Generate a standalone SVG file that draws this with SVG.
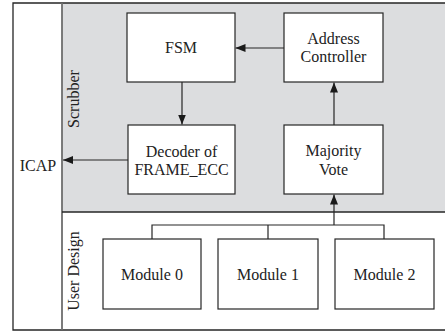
<svg xmlns="http://www.w3.org/2000/svg" width="445" height="332" viewBox="0 0 445 332">
  <style>
    .box { fill: #ffffff; stroke: #262626; stroke-width: 1.2; }
    .frame { fill: none; stroke: #262626; stroke-width: 1.3; }
    .wire { fill: none; stroke: #262626; stroke-width: 1.2; }
    text { font-family: "Liberation Serif", "Times New Roman", serif; font-size: 16px; fill: #222222; text-anchor: middle; }
  </style>
  <defs>
    <marker id="arrow" viewBox="0 0 10 8" refX="10" refY="4" markerWidth="10" markerHeight="8" markerUnits="userSpaceOnUse" orient="auto">
      <path d="M0,0 L10,4 L0,8 Z" fill="#1a1a1a"/>
    </marker>
  </defs>

  <!-- background regions -->
  <rect x="0" y="0" width="445" height="332" fill="#ffffff"/>
  <rect x="62" y="3" width="383" height="209" fill="#dcdddf"/>

  <!-- outer frame and region dividers -->
  <g id="frame">
    <path class="frame" d="M445,3 H13 V330 H445"/>
    <line x1="62" y1="3" x2="62" y2="330" stroke="#6e6e6e" stroke-width="1.8"/>
    <line class="frame" x1="62" y1="212" x2="445" y2="212"/>
  </g>

  <g id="icap">
    <text x="38" y="171" font-size="15.5">ICAP</text>
  </g>
  <g id="scrubber-label">
    <text transform="translate(79,99) rotate(-90)">Scrubber</text>
  </g>
  <g id="user-design-label">
    <text transform="translate(79,271) rotate(-90)">User Design</text>
  </g>

  <g id="fsm">
    <rect class="box" x="127" y="13" width="108" height="69"/>
    <text x="181" y="53">FSM</text>
  </g>
  <g id="address-controller">
    <rect class="box" x="284" y="13" width="99" height="69"/>
    <text x="333.5" y="43.5">Address</text>
    <text x="333.5" y="61.5">Controller</text>
  </g>
  <g id="decoder">
    <rect class="box" x="128" y="125" width="107" height="69"/>
    <text x="181.5" y="156.5">Decoder of</text>
    <text x="181.5" y="174.5">FRAME_ECC</text>
  </g>
  <g id="majority-vote">
    <rect class="box" x="284" y="125" width="99" height="69"/>
    <text x="333.5" y="156">Majority</text>
    <text x="333.5" y="174.5">Vote</text>
  </g>
  <g id="module-0">
    <rect class="box" x="103" y="239" width="98" height="70"/>
    <text x="152" y="279.5">Module 0</text>
  </g>
  <g id="module-1">
    <rect class="box" x="218" y="239" width="100" height="70"/>
    <text x="268" y="279.5">Module 1</text>
  </g>
  <g id="module-2">
    <rect class="box" x="335" y="239" width="99" height="70"/>
    <text x="384.5" y="279.5">Module 2</text>
  </g>

  <g id="connectors">
    <line class="wire" x1="284" y1="48" x2="235.5" y2="48" marker-end="url(#arrow)"/>
    <line class="wire" x1="182" y1="82" x2="182" y2="124.5" marker-end="url(#arrow)"/>
    <line class="wire" x1="128" y1="160" x2="63" y2="160" marker-end="url(#arrow)"/>
    <line class="wire" x1="334" y1="125" x2="334" y2="82.5" marker-end="url(#arrow)"/>
    <path class="wire" d="M152,239 V225 H384 V239 M268,225 V239"/>
    <line class="wire" x1="334" y1="225" x2="334" y2="194.5" marker-end="url(#arrow)"/>
  </g>
</svg>
